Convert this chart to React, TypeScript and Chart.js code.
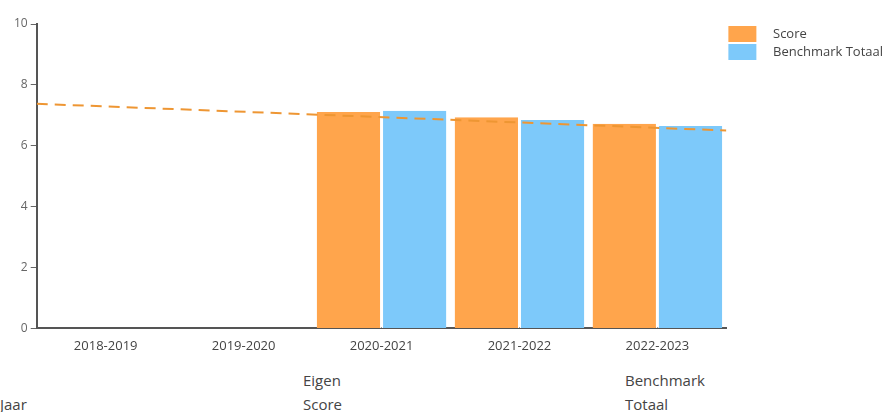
import React, { useEffect, useRef } from "react";
import { Chart, registerables } from "chart.js";

Chart.register(...registerables);

const categories = ["2018-2019", "2019-2020", "2020-2021", "2021-2022", "2022-2023"];
const scoreValues = [null, null, 7.11, 6.94, 6.72];
const benchmarkValues = [null, null, 7.15, 6.85, 6.65];
const trendValues = [7.38, 6.5];
const trendPositions = [-0.5, 4.5];
const yTicks = [0, 2, 4, 6, 8, 10];
const headerLabels = [["Jaar"], ["Eigen", "Score"], ["Benchmark", "Totaal"]];

const FONT = "'Open Sans', 'Noto Sans', sans-serif";

export default function App() {
  const ref = useRef<HTMLCanvasElement | null>(null);

  useEffect(() => {
    if (!ref.current) return;
    const chart = new Chart(ref.current, {
      type: "bar",
      data: {
        datasets: [
          {
            type: "bar",
            label: "Score",
            data: categories.map((_, i) => ({ x: i, y: scoreValues[i] })),
            backgroundColor: "#FFA54C",
            borderColor: "#ffffff",
            borderWidth: { left: 0, right: 1.5, top: 0, bottom: 0 },
            borderSkipped: false,
            categoryPercentage: 0.94,
            barPercentage: 1,
            order: 2,
          },
          {
            type: "bar",
            label: "Benchmark Totaal",
            data: categories.map((_, i) => ({ x: i, y: benchmarkValues[i] })),
            backgroundColor: "#7DC9FA",
            borderColor: "#ffffff",
            borderWidth: { left: 1.5, right: 0, top: 0, bottom: 0 },
            borderSkipped: false,
            categoryPercentage: 0.94,
            barPercentage: 1,
            order: 2,
          },
          {
            type: "line",
            label: "Trend",
            data: trendPositions.map((x, i) => ({ x, y: trendValues[i] })),
            borderColor: "#EE9633",
            borderWidth: 2,
            borderDash: [11, 7],
            pointRadius: 0,
            fill: false,
            order: 1,
          },
        ] as any,
      },
      options: {
        animation: false,
        responsive: true,
        maintainAspectRatio: false,
        layout: { padding: { top: 24, right: 0, left: 11, bottom: 0 } },
        plugins: {
          tooltip: { enabled: false },
          legend: {
            position: "right",
            align: "start",
            labels: {
              boxWidth: 28,
              boxHeight: 16,
              padding: 2,
              color: "#444",
              font: { family: FONT, size: 13 },
              filter: (item: any) => item.text.trim() !== "Trend",
              generateLabels: (c: any) =>
                Chart.defaults.plugins.legend.labels.generateLabels(c).map((it: any) => ({
                  ...it,
                  text: "   " + it.text,
                  lineWidth: 0,
                })),
            },
          },
        },
        scales: {
          x: {
            type: "linear",
            offset: false,
            min: -0.5,
            max: 4.5,
            afterBuildTicks: (axis: any) => {
              axis.ticks = categories.map((_, i) => ({ value: i }));
            },
            grid: { display: false, offset: false },
            border: { display: true, color: "#555", width: 2 },
            ticks: {
              color: "#444",
              font: { family: FONT, size: 13 },
              maxRotation: 0,
              autoSkip: false,
              padding: 2,
              callback: (value: any) => categories[Math.round(Number(value))] ?? "",
            },
          },
          y: {
            min: 0,
            max: 10,
            afterBuildTicks: (axis: any) => {
              axis.ticks = yTicks.map((v) => ({ value: v }));
            },
            grid: { drawOnChartArea: false, drawTicks: true, tickLength: 6, color: "#666" },
            border: { display: true, color: "#555", width: 2 },
            ticks: { color: "#666", font: { family: FONT, size: 12 }, padding: 3 },
          },
        },
      } as any,
    });
    return () => chart.destroy();
  }, []);

  return (
    <div style={{ width: 893, fontFamily: FONT }}>
      <style>{"body{margin:0;}"}</style>
      <div style={{ position: "relative", width: 893, height: 356 }}>
        <canvas ref={ref} />
      </div>
      <div style={{ display: "flex", alignItems: "flex-end", height: 60, color: "#444", fontSize: 15, lineHeight: "24px" }}>
        {headerLabels.map((lines, i) => (
          <div key={i} style={{ width: i === 0 ? 303 : i === 1 ? 322 : 268 }}>
            {lines.map((l, j) => (
              <div key={j}>{l}</div>
            ))}
          </div>
        ))}
      </div>
    </div>
  );
}
